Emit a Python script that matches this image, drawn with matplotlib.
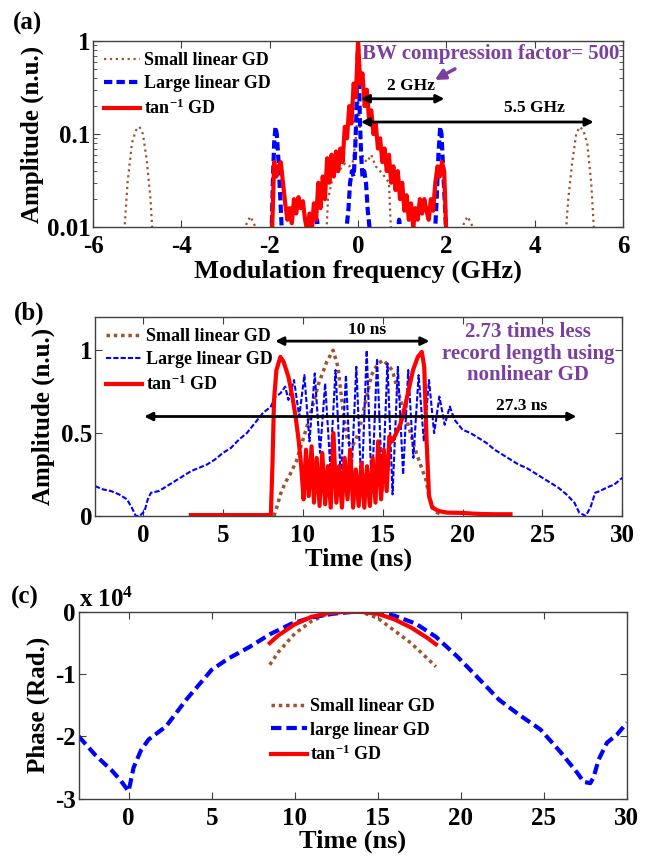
import numpy as np
import matplotlib.pyplot as plt

plt.rcParams['font.family'] = ['Liberation Serif', 'DejaVu Serif']
plt.rcParams['font.weight'] = 'bold'
plt.rcParams['axes.labelweight'] = 'bold'
plt.rcParams['mathtext.fontset'] = 'custom'
plt.rcParams['mathtext.rm'] = 'Liberation Serif:bold'
plt.rcParams['mathtext.it'] = 'Liberation Serif:bold'
plt.rcParams['mathtext.bf'] = 'Liberation Serif:bold'
plt.rcParams['axes.unicode_minus'] = False

nan = np.nan
BROWN = '#A0522D'
BLUE = '#0000FF'
RED = '#FF0000'
PURPLE = '#7B3FA0'

# ---------------- (a) spectrum ----------------
small_a_x = [-5.3, -5.22, -5.12, -5.03, -4.95, -4.87, -4.78, -4.7, -4.65, nan,
             -2.62, -2.52, -2.44, -2.36, -2.25, nan,
             -0.72, -0.68, -0.6, -0.5, -0.4, -0.3, -0.2, -0.12, -0.06, -0.02, 0.0,
             0.03, 0.07, 0.12, 0.2, 0.3, 0.4, 0.5, 0.6, 0.7, 0.75, nan,
             2.3, 2.4, 2.48, 2.56, 2.68, nan,
             4.7, 4.76, 4.85, 4.94, 5.02, 5.1, 5.19, 5.28, 5.35]
small_a_y = [0.008, 0.03, 0.08, 0.11, 0.12, 0.1, 0.05, 0.02, 0.008, nan,
             0.008, 0.011, 0.013, 0.011, 0.008, nan,
             0.008, 0.02, 0.03, 0.04, 0.042, 0.048, 0.045, 0.05, 0.08, 0.15, 0.25,
             0.15, 0.07, 0.055, 0.05, 0.06, 0.045, 0.04, 0.035, 0.03, 0.008, nan,
             0.008, 0.011, 0.013, 0.011, 0.008, nan,
             0.008, 0.02, 0.05, 0.1, 0.12, 0.11, 0.08, 0.03, 0.008]

large_a_x = [-1.96, -1.93, -1.9, -1.87, -1.84, -1.8, -1.76, -1.72, nan,
             -0.98, -0.93, -0.88, nan,
             -0.28, -0.22, -0.18, -0.14, -0.1, -0.07, -0.04, -0.02, 0.0,
             0.02, 0.04, 0.07, 0.1, 0.14, 0.18, 0.22, 0.28, nan,
             0.88, 0.93, 0.98, nan,
             1.74, 1.78, 1.82, 1.86, 1.89, 1.92, 1.96, 2.0]
large_a_y = [0.008, 0.03, 0.08, 0.12, 0.1, 0.05, 0.02, 0.008, nan,
             0.008, 0.012, 0.008, nan,
             0.008, 0.015, 0.03, 0.04, 0.035, 0.06, 0.15, 0.5, 0.9,
             0.5, 0.15, 0.06, 0.035, 0.04, 0.03, 0.015, 0.008, nan,
             0.008, 0.012, 0.008, nan,
             0.008, 0.02, 0.06, 0.12, 0.1, 0.05, 0.02, 0.008]

atan_a_x = np.linspace(-1.95, 2.0, 80)
atan_a_y = [0.008, 0.05, 0.035, 0.045, 0.05, 0.03, 0.018, 0.012, 0.016, 0.011,
            0.02, 0.014, 0.021, 0.016, 0.019, 0.012, 0.009, 0.014, 0.009, 0.018,
            0.012, 0.03, 0.016, 0.035, 0.02, 0.055, 0.03, 0.06, 0.035, 0.065,
            0.04, 0.07, 0.05, 0.12, 0.09, 0.2, 0.13, 0.35, 0.25, 1.0,
            0.35, 0.45, 0.2, 0.3, 0.14, 0.18, 0.1, 0.13, 0.07, 0.09,
            0.05, 0.07, 0.04, 0.06, 0.03, 0.045, 0.025, 0.04, 0.02, 0.03,
            0.015, 0.022, 0.012, 0.018, 0.01, 0.016, 0.012, 0.02, 0.014, 0.02,
            0.015, 0.012, 0.02, 0.015, 0.03, 0.045, 0.035, 0.05, 0.04, 0.008]

# ---------------- (b) time domain ----------------
small_b_x = [8.2, 8.4, 8.6, 8.9, 9.2, 9.6, 10.2, 10.6, 11.0, 11.5, 11.9, 12.2, 12.5,
             12.8, 13.1, 13.5, 13.9, 14.3, 14.7, 15.05, 15.6, 16.2, 16.6, 17.0,
             17.4, 17.7, 17.9, 18.1, 18.4, 18.7]
small_b_y = [0.0, 0.06, 0.13, 0.2, 0.25, 0.33, 0.52, 0.66, 0.8, 0.93, 1.0, 0.9, 0.65,
             0.45, 0.42, 0.5, 0.68, 0.85, 0.92, 0.94, 0.88, 0.67, 0.55, 0.41,
             0.3, 0.22, 0.12, 0.06, 0.02, 0.01]

large_b_x = [-3, -2.5, -2, -1.5, -1.0, -0.7, -0.45, -0.2, 0.1, 0.3, 0.5, 1.0, 1.5, 2.0,
             2.5, 3.0, 3.5, 4.0, 4.5, 5.0, 5.5, 6.0, 6.5, 7.0, 7.5, 8.0, 8.3, 8.6,
             8.9, 9.1,
             9.45, 9.78, 10.1, 10.42, 10.75, 11.08, 11.4, 11.72, 12.05, 12.38,
             12.7, 13.02, 13.35, 13.68, 14.0, 14.32, 14.65, 14.98, 15.3, 15.62,
             15.95, 16.28, 16.6, 16.92, 17.25, 17.58, 17.9, 18.22, 18.55, 18.88,
             19.2, 19.5,
             20, 20.5, 21, 21.5, 22, 22.5, 23, 23.5, 24, 24.5, 25, 25.5, 26, 26.5,
             27, 27.3, 27.7, 28.0, 28.3, 28.6, 29, 29.5, 30]
large_b_y = [0.18, 0.16, 0.15, 0.13, 0.1, 0.05, 0.0, 0.0, 0.03, 0.1, 0.14, 0.15, 0.18, 0.21,
             0.24, 0.27, 0.29, 0.31, 0.34, 0.38, 0.41, 0.46, 0.5, 0.56, 0.62, 0.66, 0.72, 0.74,
             0.78, 0.7,
             0.82, 0.6, 0.85, 0.45, 0.86, 0.38, 0.8, 0.3, 0.88, 0.22,
             0.85, 0.18, 0.9, 0.15, 1.0, 0.14, 0.95, 0.15, 0.92, 0.13,
             0.9, 0.25, 0.88, 0.35, 0.85, 0.45, 0.82, 0.5, 0.72, 0.55,
             0.66, 0.58,
             0.52, 0.5, 0.47, 0.44, 0.4, 0.37, 0.34, 0.31, 0.29, 0.26, 0.23, 0.2, 0.17, 0.13,
             0.08, 0.02, 0.0, 0.05, 0.14, 0.15, 0.17, 0.19, 0.23]

atan_b_x = [3.0, 8.0, 8.1, 8.2, 8.35, 8.6, 8.8, 9.1, 9.35, 9.55, 9.75, 9.9,
            10.05, 10.2, 10.37, 10.55, 10.7, 10.87, 11.05, 11.22, 11.4, 11.57,
            11.75, 11.92, 12.1, 12.27, 12.45, 12.62, 12.8, 12.97, 13.15, 13.32,
            13.5, 13.67, 13.85, 14.02, 14.2, 14.37, 14.55, 14.72, 14.9, 15.07,
            15.25, 15.42,
            15.6, 15.85, 16.1, 16.3, 16.6, 16.9, 17.2, 17.45, 17.6, 17.75, 17.9,
            18.1, 18.5, 19.0, 20.0, 21.0, 22.0, 23.0]
atan_b_y = [0.005, 0.005, 0.3, 0.7, 0.88, 0.96, 0.93, 0.84, 0.72, 0.6, 0.45, 0.3,
            0.1, 0.4, 0.12, 0.42, 0.08, 0.35, 0.06, 0.38, 0.07, 0.3,
            0.05, 0.5, 0.08, 0.3, 0.05, 0.35, 0.1, 0.4, 0.05, 0.28,
            0.06, 0.32, 0.05, 0.3, 0.06, 0.35, 0.08, 0.45, 0.1, 0.4,
            0.15, 0.48,
            0.45, 0.5, 0.55, 0.62, 0.75, 0.88, 0.96, 0.99, 0.9, 0.45, 0.12,
            0.05, 0.03, 0.02, 0.018, 0.012, 0.01, 0.01]

# ---------------- (c) phase (x 1e4 rad) ----------------
large_c_x = [-3, -2, -1, -0.5, 0.0, 0.3, 0.75, 1.2, 2.25, 3.5, 5.0, 6.0, 7.3, 8.5,
             9.8, 11.0, 12.3, 13.5, 14.8, 16.0, 17.3, 18.5, 19.8, 21.0, 22.3, 23.5,
             24.8, 26.0, 27.0, 27.4, 27.8, 28.0, 28.3, 28.8, 29.4, 30]
large_c_y = [-2.0, -2.3, -2.55, -2.7, -2.88, -2.5, -2.22, -2.05, -1.84, -1.4, -0.93, -0.75,
             -0.56, -0.36, -0.19, -0.09, -0.03, 0.0, 0.0, -0.06, -0.19, -0.4, -0.72, -1.05,
             -1.41, -1.65, -1.89, -2.25, -2.58, -2.73, -2.75, -2.65, -2.37, -2.1, -1.97, -1.78]

small_c_x = [8.5, 9.0, 10.0, 11.0, 12.0, 13.0, 14.0, 15.0, 16.0, 17.0, 18.0, 18.5]
small_c_y = [-0.85, -0.65, -0.35, -0.15, -0.03, 0.0, 0.0, -0.1, -0.3, -0.5, -0.75, -0.88]

atan_c_x = [8.5, 9.0, 10.0, 11.0, 12.0, 13.0, 14.0, 15.0, 16.0, 17.0, 18.0, 18.5]
atan_c_y = [-0.5, -0.38, -0.2, -0.08, -0.02, 0.0, 0.0, -0.03, -0.12, -0.25, -0.42, -0.52]


def matlab_box(ax):
    for s in ax.spines.values():
        s.set_color('#404040')
        s.set_linewidth(1.0)
    ax.tick_params(which='both', direction='in', top=True, right=True,
                   labelsize=18, color='#404040')
    ax.tick_params(axis='x', pad=6)
    ax.tick_params(axis='y', pad=2)
    ax.tick_params(which='major', length=5)
    ax.tick_params(which='minor', length=3)
    for lab in ax.get_xticklabels() + ax.get_yticklabels():
        lab.set_fontweight('bold')


fig = plt.figure(figsize=(6.51, 8.57), dpi=100)

# (a)
ax = fig.add_axes([0.143, 0.735, 0.814, 0.217])
ax.plot(small_a_x, small_a_y, ':', color=BROWN, lw=1.6, label='Small linear GD')
ax.plot(large_a_x, large_a_y, '--', color=BLUE, lw=3, dashes=(2, 1), label='Large linear GD')
ax.plot(atan_a_x, atan_a_y, '-', color=RED, lw=3, label='tan$^{-1}$ GD')
ax.set_yscale('log')
ax.set_xlim(-6, 6)
ax.set_ylim(0.01, 1)
ax.set_xticks([-6, -4, -2, 0, 2, 4, 6])
ax.set_yticks([0.01, 0.1, 1])
ax.set_yticklabels(['0.01', '0.1', '1'])
matlab_box(ax)
ax.set_xlabel('Modulation frequency (GHz)', fontsize=19, labelpad=1)
ax.set_ylabel('Amplitude (n.u.)', fontsize=18, labelpad=2)
ax.legend(loc='upper left', frameon=False, fontsize=13, handlelength=2.0,
          handletextpad=0.2, labelspacing=0.35, borderaxespad=0.2)
ax.text(3.0, 0.72, 'BW compression factor= 500', color=PURPLE, fontsize=15,
        ha='center', va='center')
ax.annotate('', xy=(1.68, 0.37), xytext=(2.25, 0.52),
            arrowprops=dict(arrowstyle='-|>', color=PURPLE, lw=2.5, mutation_scale=15))
ax.annotate('', xy=(0.0, 0.24), xytext=(2.02, 0.24),
            arrowprops=dict(arrowstyle='<|-|>', color='black', lw=2, mutation_scale=12))
ax.annotate('', xy=(0.0, 0.135), xytext=(5.4, 0.135),
            arrowprops=dict(arrowstyle='<|-|>', color='black', lw=2, mutation_scale=12))
ax.text(1.2, 0.33, '2 GHz', fontsize=12.5, ha='center', va='center')
ax.text(4.0, 0.19, '5.5 GHz', fontsize=12.5, ha='center', va='center')

# (b)
ax = fig.add_axes([0.146, 0.398, 0.810, 0.232])
ax.plot(small_b_x, small_b_y, ':', color=BROWN, lw=2.5, dashes=(1, 1.1), label='Small linear GD')
ax.plot(large_b_x, large_b_y, '--', color=BLUE, lw=1.5, dashes=(2.5, 1), label='Large linear GD')
ax.plot(atan_b_x, atan_b_y, '-', color=RED, lw=3, label='tan$^{-1}$ GD')
ax.set_xlim(-3, 30)
ax.set_ylim(0, 1.2)
ax.set_xticks([0, 5, 10, 15, 20, 25, 30])
ax.set_yticks([0, 0.5, 1])
ax.set_yticklabels(['0', '0.5', '1'])
matlab_box(ax)
ax.set_xlabel('Time (ns)', fontsize=19, labelpad=0)
ax.set_ylabel('Amplitude (n.u.)', fontsize=18, labelpad=4)
ax.legend(loc='upper left', frameon=False, fontsize=13, handlelength=2.0,
          handletextpad=0.2, labelspacing=0.35, borderaxespad=0.2)
ax.annotate('', xy=(8.1, 1.055), xytext=(18.1, 1.055),
            arrowprops=dict(arrowstyle='<|-|>', color='black', lw=2, mutation_scale=12))
ax.text(14.0, 1.12, '10 ns', fontsize=12.5, ha='center', va='center')
ax.annotate('', xy=(-0.1, 0.6), xytext=(27.3, 0.6),
            arrowprops=dict(arrowstyle='<|-|>', color='black', lw=2, mutation_scale=12))
ax.text(23.7, 0.665, '27.3 ns', fontsize=12.5, ha='center', va='center')
ax.text(24.1, 0.98, '2.73 times less\nrecord length using\nnonlinear GD', color=PURPLE,
        fontsize=15, ha='center', va='center', linespacing=1.1)

# (c)
ax = fig.add_axes([0.121, 0.068, 0.842, 0.218])
ax.plot(small_c_x, small_c_y, ':', color=BROWN, lw=2.5, dashes=(1, 1.1), label='Small linear GD')
ax.plot(large_c_x, large_c_y, '--', color=BLUE, lw=3, dashes=(2.5, 1.2), label='large linear GD')
ax.plot(atan_c_x, atan_c_y, '-', color=RED, lw=3, label='tan$^{-1}$ GD')
ax.set_xlim(-3, 30)
ax.set_ylim(-3, 0)
ax.set_xticks([0, 5, 10, 15, 20, 25, 30])
ax.set_yticks([-3, -2, -1, 0])
ax.set_yticklabels(['-3', '-2', '-1', '0'])
matlab_box(ax)
ax.set_xlabel('Time (ns)', fontsize=19, labelpad=0)
ax.set_ylabel('Phase (Rad.)', fontsize=18, labelpad=4)
ax.legend(loc='center', bbox_to_anchor=(0.5, 0.36), frameon=False, fontsize=13,
          handlelength=2.0, handletextpad=0.2, labelspacing=0.35)
ax.text(0.0, 1.0, 'x 10$^4$', transform=ax.transAxes, fontsize=18,
        ha='left', va='bottom')

fig.text(0.043, 0.973, '(a)', fontsize=18, ha='center', va='center')
fig.text(0.045, 0.635, '(b)', fontsize=18, ha='center', va='center')
fig.text(0.038, 0.303, '(c)', fontsize=18, ha='center', va='center')

fig.savefig('out.png', dpi=100)
